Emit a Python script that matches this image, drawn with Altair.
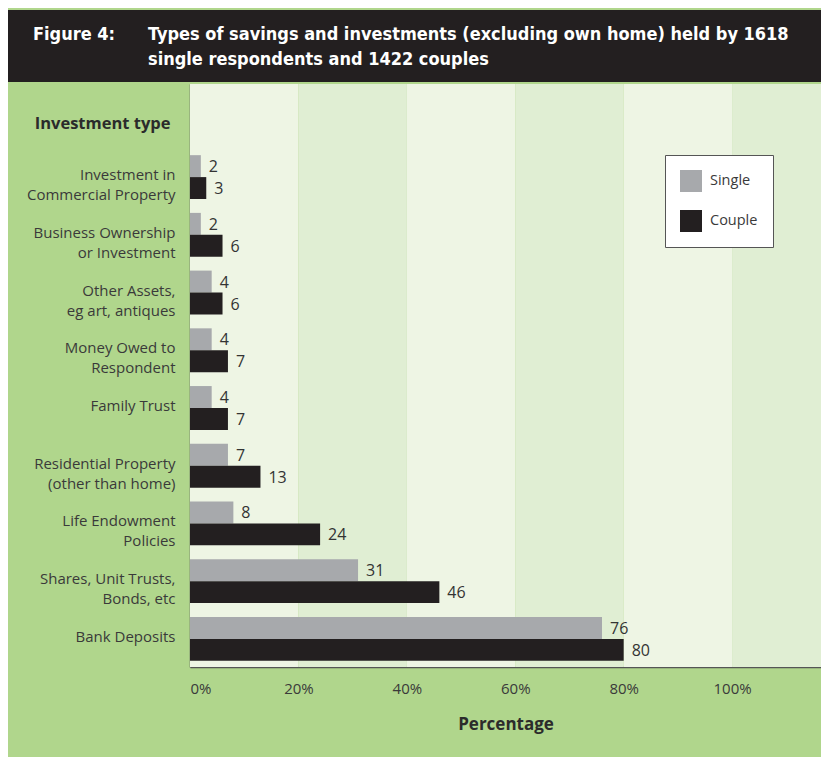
import altair as alt
import pandas as pd

categories = [
    "Investment in|Commercial Property",
    "Business Ownership|or Investment",
    "Other Assets,|eg art, antiques",
    "Money Owed to|Respondent",
    "Family Trust",
    "Residential Property|(other than home)",
    "Life Endowment|Policies",
    "Shares, Unit Trusts,|Bonds, etc",
    "Bank Deposits",
]
single = [2, 2, 4, 4, 4, 7, 8, 31, 76]
couple = [3, 6, 6, 7, 7, 13, 24, 46, 80]
series = ["Single", "Couple"]
series_colors = ["#a7a9ac", "#231f20"]

X_MAX = 116.4
band_start = [0, 20, 40, 60, 80, 100]
band_end = [20, 40, 60, 80, 100, X_MAX]
band_fill = ["#eef5e4", "#e0eed3", "#eef5e4", "#e0eed3", "#eef5e4", "#e0eed3"]

x_ticks = [0, 20, 40, 60, 80, 100]

rows = []
for c, s, k in zip(categories, single, couple):
    rows.append({"cat": c, "series": "Single", "value": s})
    rows.append({"cat": c, "series": "Couple", "value": k})
df = pd.DataFrame(rows)
bands = pd.DataFrame({"x0": band_start, "x1": band_end, "fill": band_fill})

W, H = 631, 583
LABEL_FONT = "Open Sans"
TITLE_FONT = "Liberation Sans Narrow, DejaVu Sans Condensed, sans-serif"

x_scale = alt.Scale(domain=[0, X_MAX], nice=False, zero=True)

band_layer = alt.Chart(bands).mark_rect().encode(
    x=alt.X("x0:Q", scale=x_scale),
    x2="x1:Q",
    color=alt.Color("fill:N", scale=None),
)

y_enc = alt.Y(
    "cat:N",
    sort=categories,
    scale=alt.Scale(paddingInner=0.24, paddingOuter=0.67, align=0.92),
    axis=alt.Axis(
        title="Investment type",
        titleAngle=0,
        titleAlign="right",
        titleBaseline="middle",
        titleX=-20,
        titleY=39,
        titleFont=LABEL_FONT,
        titleFontSize=16.5,
        titleFontWeight="bold",
        titleColor="#2b2b2b",
        labelExpr="split(datum.label, '|')",
        labelFont=LABEL_FONT,
        labelFontSize=15,
        labelColor="#3a3a3a",
        labelLineHeight=20,
        labelPadding=15,
        labelOffset=-2,
        labelBaseline="middle",
        ticks=False,
        domain=True,
        domainColor="#555555",
        domainWidth=1.5,
        grid=False,
    ),
)

x_enc = alt.X(
    "value:Q",
    scale=x_scale,
    axis=alt.Axis(
        title="Percentage",
        values=x_ticks,
        labelExpr="datum.value + '%'",
        labelFont=LABEL_FONT,
        labelFontSize=15,
        labelColor="#3a3a3a",
        labelPadding=14,
        titleFont=LABEL_FONT,
        titleFontSize=17,
        titleFontWeight="bold",
        titleColor="#2b2b2b",
        titlePadding=20,
        ticks=False,
        grid=False,
        domain=True,
        domainColor="#555555",
        domainWidth=1.5,
    ),
)

bars = alt.Chart(df).mark_bar().encode(
    x=x_enc,
    y=y_enc,
    yOffset=alt.YOffset("series:N", sort=series, scale=alt.Scale(paddingInner=0, paddingOuter=0)),
    color=alt.Color(
        "series:N",
        sort=series,
        scale=alt.Scale(domain=series, range=series_colors),
        legend=alt.Legend(
            title=None,
            orient="none",
            legendX=475,
            legendY=71,
            fillColor="white",
            strokeColor="#555555",
            padding=15,
            symbolType="square",
            symbolSize=484,
            symbolStrokeWidth=0,
            labelFont=LABEL_FONT,
            labelFontSize=14.5,
            labelColor="#3a3a3a",
            labelOffset=8,
            rowPadding=18,
        ),
    ),
)

labels = alt.Chart(df).mark_text(
    align="left", baseline="middle", dx=8, dy=1, font=LABEL_FONT, fontSize=16, color="#333333"
).encode(
    x=alt.X("value:Q", scale=x_scale),
    y=alt.Y("cat:N", sort=categories),
    yOffset=alt.YOffset("series:N", sort=series),
    text="value:Q",
)

# decorative title bar
title_bar = alt.Chart(pd.DataFrame({"a": [0]})).mark_rect(color="#231f20").encode(
    x=alt.value(-182), x2=alt.value(W), y=alt.value(-74), y2=alt.value(-2)
)
fig_label = alt.Chart(pd.DataFrame({"t": ["Figure 4:"]})).mark_text(
    align="left", baseline="middle", font=TITLE_FONT, fontSize=18, fontWeight="bold", color="white"
).encode(x=alt.value(-157), y=alt.value(-49), text="t:N")
title_lines = alt.Chart(pd.DataFrame({
    "t": ["Types of savings and investments (excluding own home) held by 1618",
          "single respondents and 1422 couples"],
    "yy": [-49, -24],
})).mark_text(
    align="left", baseline="middle", font=TITLE_FONT, fontSize=18, fontWeight="bold", color="white"
).encode(x=alt.value(-42), y=alt.Y("yy:Q", scale=None), text="t:N")

chart = alt.layer(band_layer, bars, labels, title_bar, fig_label, title_lines).resolve_scale(
    y="shared"
).properties(
    width=W,
    height=H,
    background="#b0d68c",
    padding={"left": 182, "top": 76, "right": 0, "bottom": 90},
    autosize=alt.AutoSizeParams(type="none"),
).configure_view(stroke=None)

chart.save("out.html", embed_options={"renderer": "svg", "actions": False})
